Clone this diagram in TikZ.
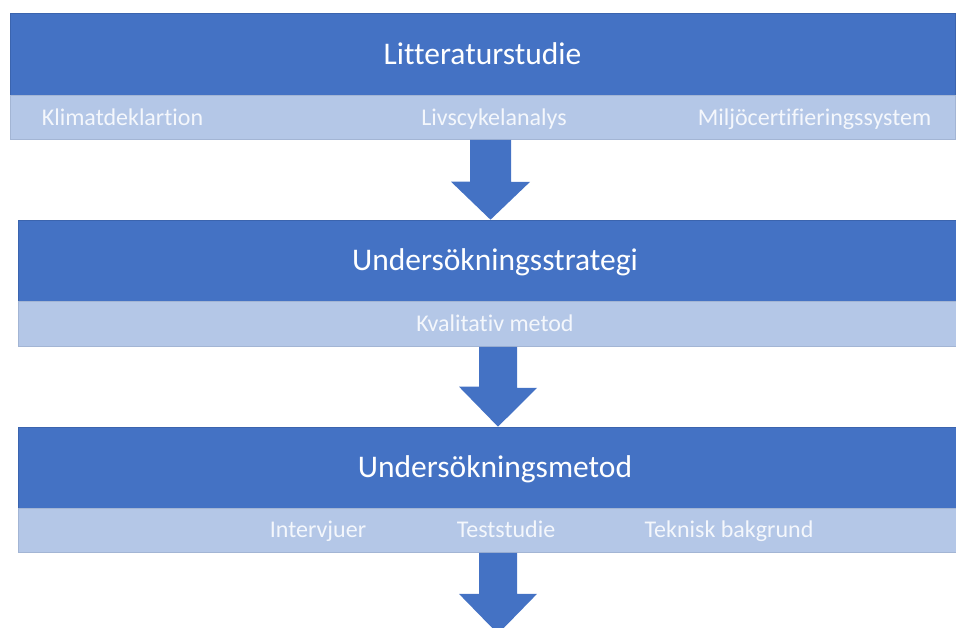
\documentclass[tikz,border=0pt]{standalone}
\usepackage{fontspec}
\setmainfont{Carlito}[Ligatures=NoCommon]
\usetikzlibrary{calc,positioning}
\definecolor{dark}{HTML}{4472C4}
\definecolor{light}{HTML}{B4C7E7}
\definecolor{rim}{HTML}{3B64AE}
\definecolor{lightrim}{HTML}{A3B5D4}
\definecolor{subtext}{HTML}{F4F7FC}
\tikzset{
  head/.style={rectangle, fill=dark, draw=rim, line width=0.6pt, inner sep=0pt,
    text=white, font=\fontsize{31.5}{36}\selectfont, text height=20.3pt, text depth=0pt},
  band/.style={rectangle, fill=light, draw=lightrim, line width=0.6pt, inner sep=0pt},
  sub/.style={text=subtext, inner sep=0pt, font=\fontsize{24}{28}\selectfont,
    text height=15.5pt, text depth=0pt},
  flow/.style={fill=dark}
}
\begin{document}
\begin{tikzpicture}[x=1pt,y=-1pt]
  \useasboundingbox (0,0) rectangle (956,628);
  \clip (0,0) rectangle (956,628);

  % Litteraturstudie
  \node[head, minimum width=945, minimum height=82] (lit) at (482.5,54) {Litteraturstudie};
  \node[band, minimum width=945, minimum height=44, below=0pt of lit] (litband) {};
  \node[sub] (klimat) at (122.5,117.5) {Klimatdeklartion};
  \node[sub] (lca) at (494,117.5) {Livscykelanalys};
  \node[sub] (miljo) at (814.5,117.5) {Miljöcertifieringssystem};

  % Undersökningsstrategi
  \node[head, minimum width=954, minimum height=81] (strat) at (495,260.5) {Undersökningsstrategi};
  \node[band, minimum width=954, minimum height=45, below=0pt of strat] (stratband) {};
  \node[sub] (kval) at (495,324) {Kvalitativ metod};

  % Undersökningsmetod
  \node[head, minimum width=954, minimum height=81] (met) at (495,467.5) {Undersökningsmetod};
  \node[band, minimum width=954, minimum height=44, below=0pt of met] (metband) {};
  \node[sub] (intervju) at (318,530) {Intervjuer};
  \node[sub] (test) at (506,530) {Teststudie};
  \node[sub] (teknisk) at (729,530) {Teknisk bakgrund};

  % block arrows between the steps
  \coordinate (c1) at (490.5,0);
  \coordinate (c2) at (498,0);
  \coordinate (end) at ($(c2|-metband.south)+(0,81)$);

  \fill[flow] ($(c1|-litband.south)+(-20.5,0)$) -- ++(41,0) -- ++(0,42) -- ++(19,0)
    -- (c1|-strat.north) -- ++(-39.5,-38) -- ++(19,0) -- cycle;
  \fill[flow] ($(c2|-stratband.south)+(-19,0)$) -- ++(38,0) -- ++(0,41) -- ++(20,0)
    -- (c2|-met.north) -- ++(-39,-40) -- ++(20,0) -- cycle;
  \fill[flow] ($(c2|-metband.south)+(-19,0)$) -- ++(38,0) -- ++(0,41) -- ++(20,0)
    -- (end) -- ++(-39,-40) -- ++(20,0) -- cycle;
\end{tikzpicture}
\end{document}
